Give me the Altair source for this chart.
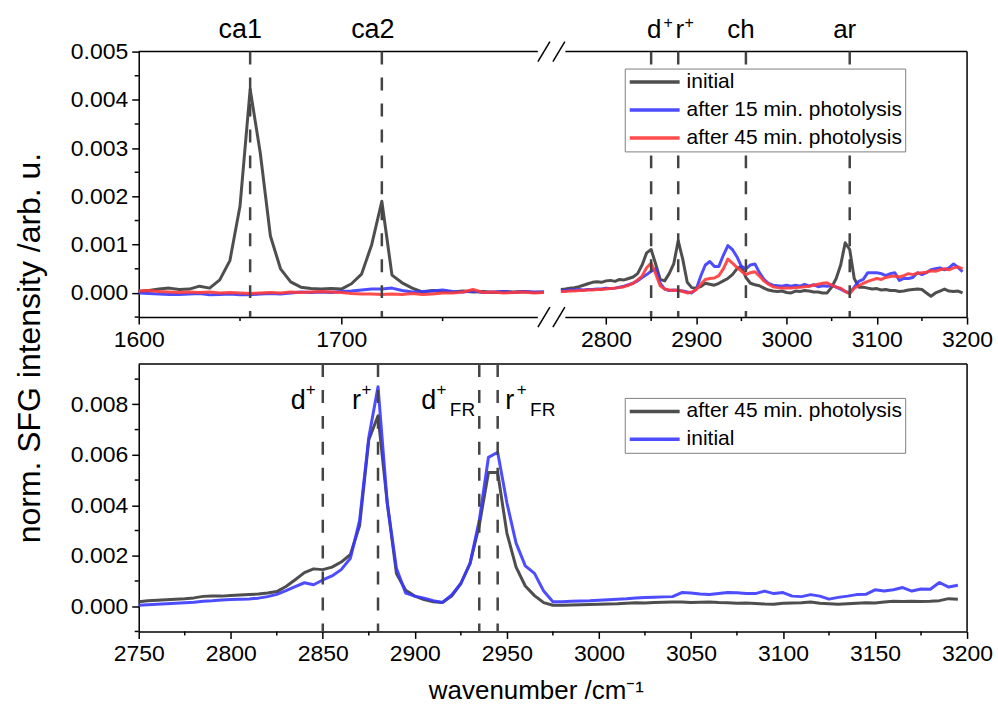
import altair as alt
import pandas as pd

FONT = "Liberation Sans"

# ---------------- wavenumber grids (cm^-1) ----------------
wn_low = list(range(1600, 1805, 5))     # carbonyl window, upper panel
wn_high = list(range(2750, 3200, 5))    # CH-stretch window, both panels

# ---------------- upper panel: normalised SFG intensity ----------------
up_low_initial = [0.00003, 0.00005, 0.00008, 0.0001, 0.00007, 0.00008, 0.00014, 0.0001, 0.00027, 0.00067,
                  0.0018, 0.00422, 0.0029, 0.00118, 0.0005, 0.00023, 0.00012, 0.00009, 0.00008, 0.00009,
                  0.00008, 0.00019, 0.00039, 0.001, 0.0019, 0.00037, 0.00021, 0.0001, 0.00002, 0.00005,
                  0.00003, 0.00002, 0.00004, 0.00002, 0.00003, 0.00001, 0.00003, 0.00002, 0.00003, 0.00001,
                  0.00002]
up_low_15 = [0.0, -0.00001, -0.00002, -0.00003, -0.00003, -0.00002, -0.00001, -0.00004, -0.00003, -0.00002,
             -0.00004, -0.00004, -0.00002, -0.00001, -0.00002, 0.0, 0.00002, 0.00001, 0.00002, 0.00001,
             0.00003, 0.00004, 0.00006, 0.00008, 0.00008, 0.0001, 0.00005, 0.00002, 0.00003, 0.00004,
             0.00006, 0.00003, 0.00002, 0.00004, 0.00001, 0.00002, 0.00003, 0.00001, 0.00003, 0.00002,
             0.00002]
up_low_45 = [0.00004, 0.00005, 0.00003, 0.00002, 0.00001, 0.00002, 0.00001, 0.00002, 0.0, 0.00001,
             0.0, -0.00001, 0.0, 0.00001, 0.0, 0.00002, 0.00001, 0.00002, 0.00003, 0.00002,
             0.00001, -0.00001, -0.00002, -0.00002, -0.00003, -0.00002, -0.00003, -0.00001, -0.00003, -0.00002,
             0.0, 0.0, 0.00002, 0.00007, 0.00001, 0.00002, 0.0, 0.00001, 0.00002, 0.0,
             0.00001]

up_high_initial = [0.00007, 0.00008, 0.0001, 0.00011, 0.00013, 0.00016, 0.00019, 0.00022, 0.00023, 0.00022,
                   0.00025, 0.00026, 0.00024, 0.00028, 0.00027, 0.0003, 0.00033, 0.0004, 0.00058, 0.00083,
                   0.0009, 0.0006, 0.00028, 0.00025, 0.0004, 0.0006, 0.00108, 0.0007, 0.00022, 0.00011,
                   0.0001, 0.00013, 0.0002, 0.00018, 0.00016, 0.0002, 0.00025, 0.0003, 0.00038, 0.0005,
                   0.00055, 0.00032, 0.0002, 0.00017, 0.00015, 0.0001, 0.00006, 0.00004, 0.00003, 0.00004,
                   0.00001, 0.0, 0.00004, 0.00003, 0.00005, 0.00004, 0.00002, 0.00002, 0.0, 0.0,
                   0.00012, 0.0003, 0.00058, 0.00104, 0.0009, 0.0003, 0.00012, 0.00012, 0.0001, 0.00008,
                   0.00009, 0.00006, 0.00007, 0.00005, 0.00005, 0.00003, 0.00004, 0.00006, 0.00007, 0.00008,
                   0.00007, 0.0, -0.00007, 0.0, 0.00004, 0.00008, 0.00004, 0.00003, 0.00004, 0.0]
up_high_15 = [0.00005, 0.00005, 0.00006, 0.00006, 0.00007, 0.00006, 0.00007, 0.00007, 0.00008, 0.00008,
              0.0001, 0.00009, 0.0001, 0.00012, 0.00014, 0.00017, 0.0002, 0.00025, 0.00032, 0.00038,
              0.00045, 0.0005, 0.0002, 0.00008, 0.00005, 0.00006, 0.00005, 0.00004, 0.00002, 0.0,
              0.00008, 0.00035, 0.00058, 0.00065, 0.00055, 0.00055, 0.00078, 0.00098, 0.0009, 0.00075,
              0.00055, 0.0005, 0.00058, 0.0006, 0.00042, 0.00028, 0.0002, 0.00016, 0.00015, 0.00014,
              0.00016, 0.00014, 0.00016, 0.00014, 0.00018, 0.00014, 0.00017, 0.00013, 0.00015, 0.00014,
              0.00016, 0.00012, 0.00008, 0.00003, 0.0, 0.00012, 0.00024, 0.00028, 0.00042, 0.00042,
              0.00042, 0.0004, 0.00036, 0.0004, 0.00042, 0.00026, 0.0003, 0.0003, 0.00032, 0.00042,
              0.00038, 0.00042, 0.00048, 0.0005, 0.00052, 0.00048, 0.00052, 0.0006, 0.00053, 0.00044]
up_high_45 = [0.00003, 0.00003, 0.00004, 0.00004, 0.00005, 0.00005, 0.00006, 0.00006, 0.00007, 0.00007,
              0.00008, 0.00009, 0.0001, 0.00011, 0.00013, 0.00016, 0.0002, 0.00027, 0.00035, 0.00052,
              0.00062, 0.0004, 0.00015, 0.00008, 0.00006, 0.00005, 0.00006, 0.00003, 0.0, 0.00002,
              0.00007, 0.00018, 0.00028, 0.0003, 0.00031, 0.00036, 0.0005, 0.0007, 0.00062, 0.00053,
              0.00045, 0.00038, 0.00042, 0.00044, 0.00035, 0.00025, 0.00018, 0.00013, 0.00011, 0.0001,
              0.0001, 0.0001, 0.00011, 0.00012, 0.00013, 0.00014, 0.00016, 0.00018, 0.0002, 0.00021,
              0.00016, 0.00012, 0.0001, 0.00003, -0.00002, 0.0001, 0.00015, 0.0002, 0.00024, 0.00027,
              0.0003, 0.00028, 0.00032, 0.00034, 0.00035, 0.00033, 0.00036, 0.0004, 0.00038, 0.00041,
              0.00042, 0.00043, 0.00046, 0.00045, 0.00048, 0.0005, 0.00048, 0.00052, 0.00054, 0.0005]

# ---------------- lower panel: CH-stretch region ----------------
lo_45 = [0.00018, 0.00022, 0.00024, 0.00026, 0.00028, 0.0003, 0.00033, 0.00039, 0.0004, 0.0004,
         0.00042, 0.00044, 0.00046, 0.00048, 0.00052, 0.00058, 0.00078, 0.00105, 0.00133, 0.00148,
         0.00145, 0.00155, 0.00175, 0.00205, 0.0032, 0.0066, 0.00755, 0.0041, 0.0013, 0.00063,
         0.0004, 0.00026, 0.00018, 0.00015, 0.0004, 0.0009, 0.0017, 0.0032, 0.0053, 0.0053,
         0.0029, 0.00155, 0.0008, 0.00042, 0.00014, 0.00004, 0.00004, 0.00005, 0.00006, 0.00007,
         0.00008, 0.00009, 0.0001, 0.00012, 0.00014, 0.00013, 0.00015, 0.00016, 0.00017, 0.00017,
         0.00015, 0.00016, 0.00017, 0.00015, 0.00014, 0.00012, 0.00013, 0.00011, 0.00009, 0.00008,
         0.00012, 0.00013, 0.00014, 0.00017, 0.00012, 0.0001, 0.00008, 0.0001, 0.00012, 0.00014,
         0.00013, 0.00017, 0.0002, 0.00019, 0.0002, 0.00019, 0.0002, 0.00022, 0.0003, 0.00028]
lo_initial = [0.00004, 0.00006, 0.00008, 0.0001, 0.00012, 0.00014, 0.00016, 0.0002, 0.00022, 0.00025,
              0.00027, 0.00028, 0.00029, 0.00032, 0.00038, 0.00047, 0.00062, 0.00078, 0.00093, 0.00085,
              0.00104, 0.0012, 0.00145, 0.0019, 0.0034, 0.0067, 0.0087, 0.0041, 0.0015, 0.00052,
              0.0004, 0.00032, 0.00022, 0.00015, 0.00045, 0.0009, 0.0017, 0.0034, 0.0059, 0.0061,
              0.0041, 0.0025, 0.0016, 0.0013, 0.0006, 0.00018, 0.00018, 0.0002, 0.00021, 0.00022,
              0.00024, 0.00026, 0.00028, 0.0003, 0.00033, 0.00035, 0.00036, 0.00037, 0.00038, 0.00054,
              0.00052, 0.00048, 0.00046, 0.0005, 0.00054, 0.00053, 0.0005, 0.0005, 0.0006, 0.0005,
              0.00054, 0.0004, 0.00038, 0.00046, 0.0004, 0.00028, 0.00035, 0.0004, 0.00046, 0.00047,
              0.00065, 0.0006, 0.00065, 0.00074, 0.0006, 0.00068, 0.00067, 0.00094, 0.00076, 0.00083]

TOP_SERIES = ["initial", "after 15 min. photolysis", "after 45 min. photolysis"]
TOP_COLORS = ["#3b3b3b", "#3a3aff", "#ff3a3a"]
BOT_SERIES = ["after 45 min. photolysis", "initial"]
BOT_COLORS = ["#3b3b3b", "#3a3aff"]

# band positions marked with dashed guides
top_bands = [1655, 1720, 2850, 2880, 2955, 3070]
bot_bands = [2850, 2880, 2935, 2945]

# labelled (major) and unlabelled (minor) tick positions
top_x_major = [1600, 1700, 2800, 2900, 3000, 3100, 3200]
top_x_minor = [1650, 1750, 2850, 2950, 3050, 3150]
top_y_major = [0.0, 0.001, 0.002, 0.003, 0.004, 0.005]
top_y_minor = [-0.0005, 0.0005, 0.0015, 0.0025, 0.0035, 0.0045]
bot_x_major = [2750, 2800, 2850, 2900, 2950, 3000, 3050, 3100, 3150, 3200]
bot_x_minor = [2775, 2825, 2875, 2925, 2975, 3025, 3075, 3125, 3175]
bot_y_major = [0.0, 0.002, 0.004, 0.006, 0.008]
bot_y_minor = [-0.001, 0.001, 0.003, 0.005, 0.007, 0.009]

W = 830
H_TOP = 266
H_BOT = 268
MINOR = 4

# ---------------- tables ----------------
rows = []
for name, lo, hi in zip(TOP_SERIES, [up_low_initial, up_low_15, up_low_45],
                        [up_high_initial, up_high_15, up_high_45]):
    rows += [{"wn": w, "val": v, "series": name, "seg": "low"} for w, v in zip(wn_low, lo)]
    rows += [{"wn": w, "val": v, "series": name, "seg": "high"} for w, v in zip(wn_high, hi)]
top_df = pd.DataFrame(rows)

rows = []
for name, vals in zip(BOT_SERIES, [lo_45, lo_initial]):
    rows += [{"wn": w, "val": v, "series": name} for w, v in zip(wn_high, vals)]
bot_df = pd.DataFrame(rows)

one = pd.DataFrame({"k": [0]})


def legend(x, y):
    return alt.Legend(title=None, orient="none", legendX=x, legendY=y,
                      symbolType="stroke", symbolSize=2500, symbolStrokeWidth=3.5,
                      symbolOpacity=0.9, labelFont=FONT, labelFontSize=21,
                      labelColor="black", labelOffset=5, labelLimit=400,
                      padding=3, rowPadding=6, clipHeight=21,
                      strokeColor="#808080", fillColor="white", zindex=1)


def build_panel(xs, ys, xaxis, yaxis, color, df, series, detail, bands, x_minor, y_minor,
                y_top, x_right, height, tags, extra=()):
    """Layer frame, minor ticks, spectra, band guides and labels of one panel.

    Every x/y position channel carries the same axis definition so that the
    merged (shared) axis keeps its explicit settings."""
    X = lambda f: alt.X(f, scale=xs, axis=xaxis)
    Y = lambda f: alt.Y(f, scale=ys, axis=yaxis)
    XD = lambda v: alt.XDatum(v, scale=xs, axis=xaxis)
    YD = lambda v: alt.YDatum(v, scale=ys, axis=yaxis)

    layers = [
        alt.Chart(one).mark_rule(color="black", strokeWidth=1.5).encode(y=YD(y_top)),
        alt.Chart(one).mark_rule(color="black", strokeWidth=1.5).encode(x=XD(x_right)),
    ]
    layers += list(extra[0](XD, YD)) if extra else []
    layers += [
        alt.Chart(pd.DataFrame({"t": x_minor})).mark_rule(color="black", strokeWidth=1.5).encode(
            x=X("t:Q"), y=alt.value(height), y2=alt.value(height + MINOR)),
        alt.Chart(pd.DataFrame({"t": y_minor})).mark_rule(color="black", strokeWidth=1.5).encode(
            y=Y("t:Q"), x=alt.value(0), x2=alt.value(-MINOR)),
    ]
    for name in series:
        enc = dict(x=X("wn:Q"), y=Y("val:Q"), color=color)
        if detail:
            enc["detail"] = detail
        layers.append(
            alt.Chart(df).transform_filter(alt.datum.series == name)
            .mark_line(strokeWidth=3, opacity=0.9, strokeJoin="round").encode(**enc)
        )
    layers.append(
        alt.Chart(pd.DataFrame({"band": bands})).mark_rule(
            color="#444444", strokeWidth=2.5, strokeDash=[13, 13]).encode(x=X("band:Q"))
    )
    if extra:
        layers += list(extra[1](XD, YD))
    for text, at, dx, y, size, align, baseline in tags:
        layers.append(
            alt.Chart(pd.DataFrame({"tag": [text]})).mark_text(
                align=align, baseline=baseline, dx=dx, fontSize=size, font=FONT, color="black"
            ).encode(x=XD(at), y=alt.value(y), text="tag:N")
        )
    return layers


# ================= upper panel (broken wavenumber axis) =================
x_top_scale = alt.Scale(domain=[1600, 1800, 2750, 3200], range=[0, 406, 423, W], nice=False, zero=False)
y_top_scale = alt.Scale(domain=[-0.0005, 0.005], nice=False, zero=False)
x_top_axis = alt.Axis(values=top_x_major, format="d", title=None, grid=False, labelFlush=False,
                      labelOverlap=False, zindex=0)
y_top_axis = alt.Axis(values=top_y_major, format=".3f", title=None, grid=False, labelOverlap=False, zindex=0)
top_color = alt.Color("series:N", scale=alt.Scale(domain=TOP_SERIES, range=TOP_COLORS), legend=legend(487, 17))


def break_under(XD, YD):
    # white strip that interrupts the frame across the axis break
    yield alt.Chart(one).mark_rect(color="white").encode(
        x=XD(1797), x2=alt.X2Datum(2755), y=alt.value(-4), y2=alt.value(H_TOP + 4))


def break_marks(XD, YD):
    # "//" marks on the upper and lower frame edge
    for yb in (0, H_TOP):
        for off in (0, 15):
            yield alt.Chart(one).mark_rule(color="black", strokeWidth=1.5,
                                           xOffset=off - 6, x2Offset=off + 6).encode(
                x=XD(1800), x2=alt.X2Datum(1800), y=alt.value(yb + 10), y2=alt.value(yb - 10))


top_tags = [
    ("ca1", 1655, -10, -14, 27, "center", "alphabetic"),
    ("ca2", 1720, -9, -14, 27, "center", "alphabetic"),
    ("d", 2850, 3, -14, 26, "center", "alphabetic"),
    ("+", 2850, 17, -29, 16, "center", "middle"),
    ("r", 2880, 1.5, -14, 26, "center", "alphabetic"),
    ("+", 2880, 11, -29, 16, "center", "middle"),
    ("ch", 2955, -5, -14, 26, "center", "alphabetic"),
    ("ar", 3070, -5, -14, 26, "center", "alphabetic"),
]
top_layers = build_panel(x_top_scale, y_top_scale, x_top_axis, y_top_axis, top_color, top_df, TOP_SERIES,
                         "seg:N", top_bands, top_x_minor, top_y_minor, 0.005, 3200, H_TOP, top_tags,
                         extra=(break_under, break_marks))
# shared y title for both panels
top_layers.append(
    alt.Chart(one).mark_text(text="norm. SFG intensity /arb. u.", angle=270, fontSize=32, font=FONT,
                             align="center", baseline="middle", color="black")
    .encode(x=alt.value(-109), y=alt.value(297))
)
top = alt.layer(*top_layers).properties(width=W, height=H_TOP)

# ================= lower panel =================
x_bot_scale = alt.Scale(domain=[2750, 3200], nice=False, zero=False)
y_bot_scale = alt.Scale(domain=[-0.001, 0.0096], nice=False, zero=False)
x_bot_axis = alt.Axis(values=bot_x_major, format="d", title="wavenumber /cm\u207b\u00b9", grid=False,
                      labelFlush=False, labelOverlap=False, titlePadding=12, titleX=398,
                      titleAlign="center", zindex=0)
y_bot_axis = alt.Axis(values=bot_y_major, format=".3f", title=None, grid=False, labelOverlap=False, zindex=0)
bot_color = alt.Color("series:N", scale=alt.Scale(domain=BOT_SERIES, range=BOT_COLORS), legend=legend(487, 34))

bot_tags = [
    ("d", 2850, -17, 45, 27, "right", "alphabetic"),
    ("+", 2850, -12, 26, 17, "center", "middle"),
    ("r", 2880, -17, 45, 27, "right", "alphabetic"),
    ("+", 2880, -11.5, 26, 17, "center", "middle"),
    ("d", 2935, -43, 45, 27, "right", "alphabetic"),
    ("+", 2935, -38, 26, 17, "center", "middle"),
    ("FR", 2935, -29.5, 52, 19, "left", "alphabetic"),
    ("r", 2945, 7.5, 45, 27, "left", "alphabetic"),
    ("+", 2945, 24, 26, 17, "center", "middle"),
    ("FR", 2945, 32.5, 52, 19, "left", "alphabetic"),
]
bot_layers = build_panel(x_bot_scale, y_bot_scale, x_bot_axis, y_bot_axis, bot_color, bot_df, BOT_SERIES,
                         None, bot_bands, bot_x_minor, bot_y_minor, 0.0096, 3200, H_BOT, bot_tags)
bottom = alt.layer(*bot_layers).properties(width=W, height=H_BOT)

chart = (
    alt.vconcat(top, bottom, spacing=47, bounds="flush")
    .resolve_scale(x="independent", y="independent", color="independent")
    .properties(padding={"left": 14, "top": 14, "right": 5, "bottom": 5})
    .configure_view(stroke=None)
    .configure_axis(labelFont=FONT, labelFontSize=23, labelColor="black", labelPadding=4,
                    titleFont=FONT, titleFontSize=26, titleFontWeight="normal", titleColor="black",
                    domainColor="black", domainWidth=1.5, tickColor="black", tickWidth=1.5, tickSize=7)
)

chart.save("out.html", embed_options={"renderer": "svg", "actions": False})
